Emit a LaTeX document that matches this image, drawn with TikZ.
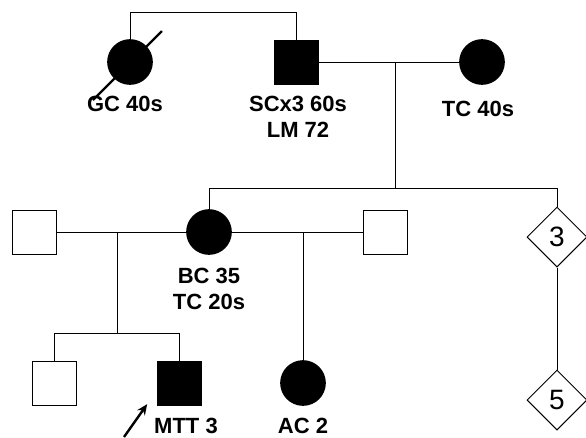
\documentclass[tikz,border=0pt]{standalone}
\usepackage{fontspec}
\setmainfont{Liberation Sans}
\setsansfont{Liberation Sans}
\usetikzlibrary{arrows.meta,shapes.geometric}

\begin{document}
\begin{tikzpicture}[
    x=0.75pt, y=-0.75pt,
    line width=0.75pt,
    male/.style={draw, rectangle, minimum size=33pt, inner sep=0pt},
    female/.style={draw, circle, minimum size=33.5pt, inner sep=0pt},
    sibs/.style={draw, diamond, minimum width=45pt, minimum height=45pt, inner sep=0pt, font=\fontsize{21}{21}\selectfont},
    lbl/.style={font=\bfseries\fontsize{16.5}{19.5}\selectfont, align=center, inner sep=0pt}
]
\useasboundingbox (0,0) rectangle (586,437);

% 第一代
\node[female, fill=black] (gc) at (130,62) {};
\node[male, fill=black]   (sc) at (296,62) {};
\node[female, fill=black] (tc) at (482,62) {};
\node[lbl] (gcl) at (125,104) {GC 40s};
\node[lbl] (scl) at (298,117) {SCx3 60s\\LM 72};
\node[lbl] (tcl) at (478,109) {TC 40s};

% 第二代
\node[male]               (h1) at (34,232)  {};
\node[female, fill=black] (bc) at (209,232) {};
\node[male]               (h2) at (385,232) {};
\node[sibs]               (d3) at (557,237) {3};
\node[lbl] (bcl) at (209,289) {BC 35\\TC 20s};

% 第三代
\node[male]               (s1)  at (54,383)  {};
\node[male, fill=black]   (mtt) at (179,383) {};
\node[female, fill=black] (ac)  at (303,383) {};
\node[sibs]               (d5)  at (557,400) {5};
\node[lbl] (mttl) at (186,426) {MTT 3};
\node[lbl] (acl)  at (303,426) {AC 2};

% 辅助点
\coordinate (top)  at (0,12);
\coordinate (m1)   at (395,62);
\coordinate (sib)  at (0,188);
\coordinate (m2)   at (117,232);
\coordinate (m3)   at (303,232);
\coordinate (kids) at (0,333);
\coordinate (prob) at (124,437);

% GC - SC 婚配线, 已故斜线
\draw (gc.north) -- (gc.north |- top) -- (sc.north |- top) -- (sc.north);
\draw[line width=1.6pt] (gc.center) ++(-37,38) -- ++(69,-69);

% SC - TC
\draw (sc.east) -- (tc.west);
\draw (m1) -- (m1 |- sib);
\draw (bc.north) -- (bc.north |- sib) -- (d3.north |- sib) -- (d3.north);
\draw (d3.south) -- (d5.north);

% BC 两段婚配
\draw (h1.east) -- (bc.west);
\draw (bc.east) -- (h2.west);
\draw (m2) -- (m2 |- kids);
\draw (s1.north) -- (s1.north |- kids) -- (mtt.north |- kids) -- (mtt.north);
\draw (m3) -- (ac.north);

% 先证者箭头
\draw[-{Stealth[length=8pt,width=7pt]}, line width=1.8pt] (prob) -- ([xshift=-7pt,yshift=1pt]mtt.south west);

\end{tikzpicture}
\end{document}
